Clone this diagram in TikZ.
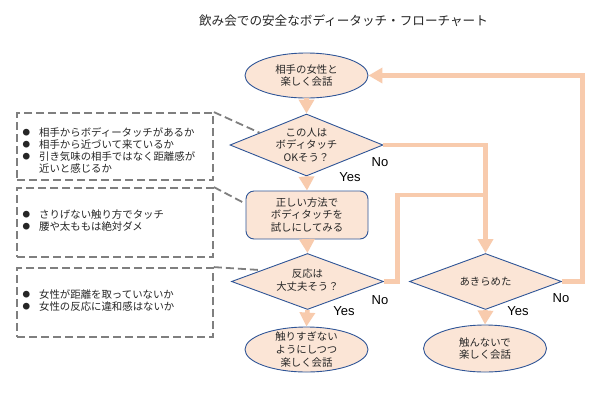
\documentclass[tikz,border=0pt]{standalone}
\usepackage{fontspec}
\setmainfont{Noto Sans CJK JP}
\newfontfamily\latinfont{Liberation Sans}
\usetikzlibrary{shapes.geometric,arrows.meta,calc}
\definecolor{shfill}{HTML}{FBE5D6}
\definecolor{shborder}{HTML}{2F5597}
\definecolor{arrowc}{HTML}{F8CBAD}
\definecolor{dashc}{HTML}{7F7F7F}
\definecolor{txt}{HTML}{262626}
\newcommand\mybullet{\makebox[16.5pt][l]{\raisebox{0.8pt}{\fontsize{7.5}{7.5}\selectfont ●}}}
\newcommand\myindent{\hspace*{16.5pt}}
\begin{document}
\begin{tikzpicture}[x=1pt,y=-1pt,
  shapebase/.style={fill=shfill, draw=shborder, line width=0.9pt, inner sep=0pt},
  oval/.style={shapebase, ellipse, minimum width=123pt, minimum height=45pt},
  decision/.style={shapebase, diamond, minimum width=152pt, minimum height=56pt},
  process/.style={shapebase, rectangle, rounded corners=8pt, minimum width=122pt, minimum height=48pt},
  stext/.style={font=\fontsize{10.4}{12.8}\selectfont, text=txt, align=center, inner sep=0pt},
  flow/.style={draw=arrowc, line width=4.5pt, -{Triangle[width=15pt,length=14pt]}},
  flowline/.style={draw=arrowc, line width=4.5pt},
  dbox/.style={draw=dashc, line width=1.8pt, dash pattern=on 8pt off 4pt, minimum width=196pt, inner sep=0pt},
  callout/.style={draw=dashc, line width=1.8pt, dash pattern=on 8pt off 4pt},
  boxtext/.style={font=\fontsize{10.4}{12.2}\selectfont, text=txt, align=left, inner sep=0pt, anchor=west},
  yn/.style={font=\latinfont\fontsize{13}{15}\selectfont, inner sep=0pt},
]
\fill[white] (0,0) rectangle (610,400);
\useasboundingbox (0,0) rectangle (610,400);

% title
\node[font=\fontsize{12.6}{15}\selectfont, text=txt, inner sep=0pt] (title) at (343.5,21) {飲み会での安全なボディータッチ・フローチャート};

% shapes
\node[oval] (E1) at (306.5,75.5) {};
\node[stext] (E1t) at (E1) {相手の女性と\\楽しく会話};
\node[decision, minimum height=62pt, minimum width=153pt] (D1) at (306.5,145) {};
\node[stext] (D1t) at (D1) {この人は\\ボディタッチ\\OKそう？};
\node[process] (R1) at (307,215) {};
\node[stext] (R1t) at (R1) {正しい方法で\\ボディタッチを\\試しにしてみる};
\node[decision] (D2) at (307.5,281.5) {};
\node[stext] (D2t) at ($(D2)+(0,-1.5)$) {反応は\\大丈夫そう？};
\node[oval] (E2) at (306.5,349.5) {};
\node[stext] (E2t) at (E2) {触りすぎない\\ようにしつつ\\楽しく会話};
\node[decision] (D3) at (485.5,281.5) {};
\node[stext] (D3t) at (D3) {あきらめた};
\node[oval, minimum height=47pt] (E3) at (485,348.5) {};
\node[stext] (E3t) at (E3) {触んないで\\楽しく会話};

% connectors
\draw[flow] (E1.south) -- (D1.north);
\draw[flow] (D1.south) -- (R1.north);
\draw[flow] (R1.south) -- (D2.north);
\draw[flow] (D2.south) -- (E2.north);
\draw[flow] (D3.south) -- (E3.north);
\draw[flow] (D1.east) -| (D3.north);
\coordinate (J) at (485.5,195);
\draw[flowline] (D2.east) -- ++(13.5,0) |- (J);
\draw[flow] (D3.east) -- ++(20.5,0) |- (E1.east);

% yes / no labels
\node[yn] (D1no) at (380,162) {No};
\node[yn] (D1yes) at (350,177.5) {Yes};
\node[yn] (D2no) at (380,300) {No};
\node[yn] (D2yes) at (344,311.5) {Yes};
\node[yn] (D3no) at (561,298.5) {No};
\node[yn] (D3yes) at (518,311.5) {Yes};

% dashed note boxes
\node[dbox, minimum height=67pt] (B1) at (115,146.5) {};
\node[boxtext] (B1t) at (22.5,150.5) {\mybullet 相手からボディータッチがあるか\\\mybullet 相手から近づいて来ているか\\\mybullet 引き気味の相手ではなく距離感が\\\myindent 近いと感じるか};
\node[dbox, minimum height=69pt] (B2) at (115,222.5) {};
\node[boxtext] (B2t) at (22.5,220.5) {\mybullet さりげない触り方でタッチ\\\mybullet 腰や太ももは絶対ダメ};
\node[dbox, minimum height=69pt] (B3) at (115,302.5) {};
\node[boxtext] (B3t) at (22.5,300.5) {\mybullet 女性が距離を取っていないか\\\mybullet 女性の反応に違和感はないか};

% callout lines
\coordinate (c1) at ($(D1.west)!0.39!(D1.north)$);
\coordinate (c2) at ($(R1.north west)!0.27!(R1.south west)$);
\coordinate (c3) at ($(D2.west)!0.4!(D2.north)$);
\draw[callout] (B1.north east) -- (c1);
\draw[callout] (B2.north east) -- (c2);
\draw[callout] (B3.north east) -- (c3);
\end{tikzpicture}
\end{document}
